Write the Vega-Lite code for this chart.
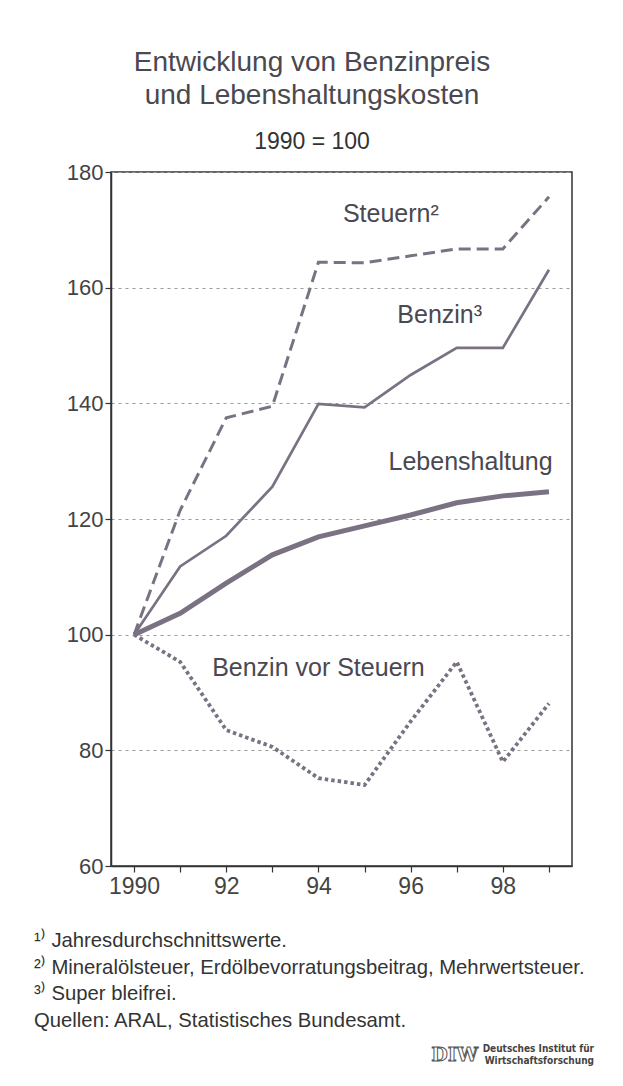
{
  "$schema": "https://vega.github.io/schema/vega-lite/v6.json",
  "background": "white",
  "padding": {"left": 34, "top": 49, "right": 29, "bottom": 10},
  "title": {
    "text": ["Entwicklung von Benzinpreis", "und Lebenshaltungskosten"],
    "subtitle": "1990 = 100",
    "anchor": "middle",
    "font": "Liberation Sans",
    "fontSize": 28,
    "fontWeight": "normal",
    "lineHeight": 33,
    "color": "#4a4850",
    "subtitleFont": "Liberation Sans",
    "subtitleFontSize": 23,
    "subtitleColor": "#333333",
    "subtitlePadding": 21,
    "offset": 6,
    "dx": -2
  },
  "spacing": 32,
  "datasets": {
    "reihen": [
      {"reihe": "Steuern", "jahr": 1990, "wert": 100},
      {"reihe": "Steuern", "jahr": 1991, "wert": 121.5},
      {"reihe": "Steuern", "jahr": 1992, "wert": 137.5},
      {"reihe": "Steuern", "jahr": 1993, "wert": 139.5},
      {"reihe": "Steuern", "jahr": 1994, "wert": 164.4},
      {"reihe": "Steuern", "jahr": 1995, "wert": 164.3},
      {"reihe": "Steuern", "jahr": 1996, "wert": 165.5},
      {"reihe": "Steuern", "jahr": 1997, "wert": 166.7},
      {"reihe": "Steuern", "jahr": 1998, "wert": 166.7},
      {"reihe": "Steuern", "jahr": 1999, "wert": 175.7},
      {"reihe": "Benzin", "jahr": 1990, "wert": 100},
      {"reihe": "Benzin", "jahr": 1991, "wert": 111.8},
      {"reihe": "Benzin", "jahr": 1992, "wert": 117.1},
      {"reihe": "Benzin", "jahr": 1993, "wert": 125.6},
      {"reihe": "Benzin", "jahr": 1994, "wert": 139.9},
      {"reihe": "Benzin", "jahr": 1995, "wert": 139.3},
      {"reihe": "Benzin", "jahr": 1996, "wert": 144.9},
      {"reihe": "Benzin", "jahr": 1997, "wert": 149.6},
      {"reihe": "Benzin", "jahr": 1998, "wert": 149.6},
      {"reihe": "Benzin", "jahr": 1999, "wert": 163.1},
      {"reihe": "Lebenshaltung", "jahr": 1990, "wert": 100},
      {"reihe": "Lebenshaltung", "jahr": 1991, "wert": 103.7},
      {"reihe": "Lebenshaltung", "jahr": 1992, "wert": 108.9},
      {"reihe": "Lebenshaltung", "jahr": 1993, "wert": 113.8},
      {"reihe": "Lebenshaltung", "jahr": 1994, "wert": 116.9},
      {"reihe": "Lebenshaltung", "jahr": 1995, "wert": 118.8},
      {"reihe": "Lebenshaltung", "jahr": 1996, "wert": 120.7},
      {"reihe": "Lebenshaltung", "jahr": 1997, "wert": 122.8},
      {"reihe": "Lebenshaltung", "jahr": 1998, "wert": 124.0},
      {"reihe": "Lebenshaltung", "jahr": 1999, "wert": 124.7},
      {"reihe": "Benzin vor Steuern", "jahr": 1990, "wert": 100},
      {"reihe": "Benzin vor Steuern", "jahr": 1991, "wert": 95.3},
      {"reihe": "Benzin vor Steuern", "jahr": 1992, "wert": 83.5},
      {"reihe": "Benzin vor Steuern", "jahr": 1993, "wert": 80.6},
      {"reihe": "Benzin vor Steuern", "jahr": 1994, "wert": 75.2},
      {"reihe": "Benzin vor Steuern", "jahr": 1995, "wert": 74.0},
      {"reihe": "Benzin vor Steuern", "jahr": 1996, "wert": 85.0},
      {"reihe": "Benzin vor Steuern", "jahr": 1997, "wert": 95.3},
      {"reihe": "Benzin vor Steuern", "jahr": 1998, "wert": 78.0},
      {"reihe": "Benzin vor Steuern", "jahr": 1999, "wert": 88.1}
    ],
    "beschriftung": [
      {"text": "Steuern²", "jahr": 1995.57, "wert": 172.7},
      {"text": "Benzin³", "jahr": 1996.63, "wert": 155.2},
      {"text": "Lebenshaltung", "jahr": 1997.3, "wert": 129.9},
      {"text": "Benzin vor Steuern", "jahr": 1994.0, "wert": 94.3}
    ],
    "fussnoten": [
      {"zeile": "1", "seite": "links", "text": "¹⁾ Jahresdurchschnittswerte."},
      {"zeile": "2", "seite": "links", "text": "²⁾ Mineralölsteuer, Erdölbevorratungsbeitrag, Mehrwertsteuer."},
      {"zeile": "3", "seite": "links", "text": "³⁾ Super bleifrei."},
      {"zeile": "4", "seite": "links", "text": "Quellen: ARAL, Statistisches Bundesamt."}
    ],
    "logo": [
      {"zeile": "4", "seite": "rechts", "text": "Deutsches Institut für", "teil": "oben"},
      {"zeile": "4", "seite": "rechts", "text": "Wirtschaftsforschung", "teil": "unten"}
    ],
    "logozeichen": [
      {"zeile": "4", "seite": "rechts", "text": "DIW"}
    ]
  },
  "vconcat": [
    {
      "width": 461,
      "height": 694,
      "encoding": {
        "x": {
          "field": "jahr",
          "type": "quantitative",
          "scale": {"domain": [1989.5, 1999.5], "nice": false, "zero": false},
          "axis": {
            "values": [1990, 1991, 1992, 1993, 1994, 1995, 1996, 1997, 1998, 1999],
            "labelExpr": "datum.value == 1990 ? '1990' : (datum.value % 2 == 0 ? slice(toString(datum.value), 2) : '')",
            "title": null,
            "grid": false,
            "tickSize": 6,
            "labelPadding": 3,
            "labelFlush": false,
            "labelFontSize": 23
          }
        },
        "y": {
          "field": "wert",
          "type": "quantitative",
          "scale": {"domain": [60, 180], "nice": false, "zero": false},
          "axis": {
            "values": [60, 80, 100, 120, 140, 160, 180],
            "title": null,
            "grid": true,
            "gridDash": [3, 4],
            "gridColor": "#9a9a9a",
            "gridWidth": 1,
            "tickSize": 6,
            "labelPadding": 2,
            "labelFontSize": 22
          }
        }
      },
      "layer": [
        {
          "data": {"name": "reihen"},
          "transform": [{"filter": "datum.reihe == 'Benzin vor Steuern'"}],
          "mark": {"type": "line", "color": "#7a7282", "strokeWidth": 3.8, "strokeDash": [3.5, 3]}
        },
        {
          "data": {"name": "reihen"},
          "transform": [{"filter": "datum.reihe == 'Lebenshaltung'"}],
          "mark": {"type": "line", "color": "#7a7282", "strokeWidth": 5}
        },
        {
          "data": {"name": "reihen"},
          "transform": [{"filter": "datum.reihe == 'Benzin'"}],
          "mark": {"type": "line", "color": "#7a7282", "strokeWidth": 2.7}
        },
        {
          "data": {"name": "reihen"},
          "transform": [{"filter": "datum.reihe == 'Steuern'"}],
          "mark": {"type": "line", "color": "#7a7282", "strokeWidth": 3, "strokeDash": [12, 6]}
        },
        {
          "data": {"name": "beschriftung"},
          "mark": {"type": "text", "font": "Liberation Sans", "fontSize": 25, "color": "#4a4850", "align": "center", "baseline": "middle"},
          "encoding": {"text": {"field": "text"}}
        }
      ]
    },
    {
      "width": 483,
      "height": 80,
      "view": {"stroke": null},
      "encoding": {
        "x": {"field": "seite", "type": "nominal", "scale": {"type": "point", "domain": ["links", "rechts"], "padding": 0}, "axis": null},
        "y": {"field": "zeile", "type": "ordinal", "scale": {"type": "point", "domain": ["1", "2", "3", "4"], "padding": 0}, "axis": null}
      },
      "layer": [
        {
          "data": {"name": "fussnoten"},
          "mark": {"type": "text", "font": "Liberation Sans", "fontSize": 20.3, "color": "#333333", "align": "left", "baseline": "middle", "dx": -77},
          "encoding": {"text": {"field": "text"}}
        },
        {
          "data": {"name": "logozeichen"},
          "mark": {"type": "text", "font": "DejaVu Serif", "fontWeight": "bold", "fontSize": 19, "fill": "white", "stroke": "#555555", "strokeWidth": 1, "align": "right", "baseline": "middle", "dx": -116, "dy": 34},
          "encoding": {"text": {"field": "text"}}
        },
        {
          "data": {"name": "logo"},
          "transform": [{"filter": "datum.teil == 'oben'"}],
          "mark": {"type": "text", "font": "DejaVu Sans Condensed", "fontWeight": "bold", "fontSize": 10, "color": "#444444", "align": "right", "baseline": "middle", "dy": 28},
          "encoding": {"text": {"field": "text"}}
        },
        {
          "data": {"name": "logo"},
          "transform": [{"filter": "datum.teil == 'unten'"}],
          "mark": {"type": "text", "font": "DejaVu Sans Condensed", "fontWeight": "bold", "fontSize": 10, "color": "#444444", "align": "right", "baseline": "middle", "dy": 40},
          "encoding": {"text": {"field": "text"}}
        }
      ]
    }
  ],
  "config": {
    "font": "Liberation Sans",
    "view": {"stroke": "#333333", "strokeWidth": 1.5},
    "axis": {
      "domainColor": "#333333",
      "domainWidth": 1.5,
      "tickColor": "#333333",
      "tickWidth": 1.2,
      "labelColor": "#444444",
      "labelFont": "Liberation Sans"
    }
  }
}
